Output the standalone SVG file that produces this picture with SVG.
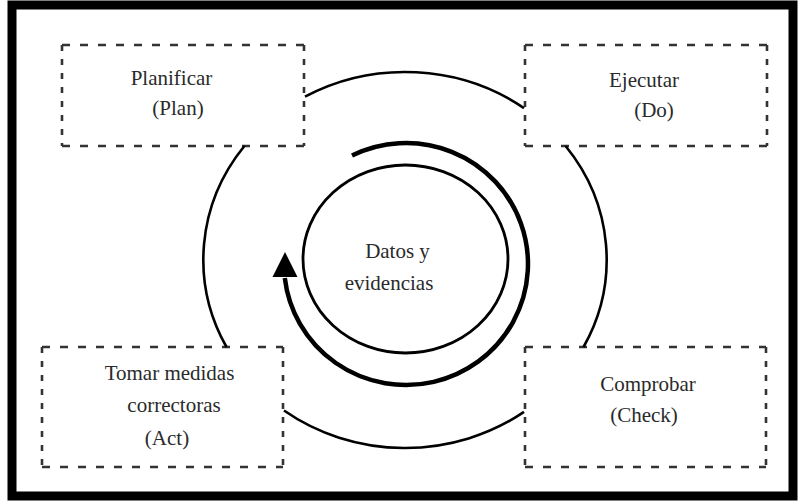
<svg xmlns="http://www.w3.org/2000/svg" width="801" height="501" viewBox="0 0 801 501">
<style>
.h{stroke:#333;stroke-width:2.6;stroke-dasharray:8 10;fill:none}
.v{stroke:#333;stroke-width:2.6;stroke-dasharray:6 8;fill:none}
.t{font-family:"Liberation Serif","Times New Roman",serif;font-size:21px;fill:#2a2a2a;text-anchor:middle}
.arc{fill:none;stroke:#000;stroke-width:2.6}
</style>
<rect x="0" y="0" width="801" height="501" fill="#fff"/>
<rect x="12" y="5" width="781" height="491" fill="none" stroke="#000" stroke-width="9"/>
<g id="plan">
<line class="h" x1="62" y1="45" x2="304" y2="45"/>
<line class="h" x1="62" y1="146" x2="304" y2="146"/>
<line class="v" x1="62" y1="45" x2="62" y2="146"/>
<line class="v" x1="304" y1="45" x2="304" y2="146"/>
<text class="t" x="171.5" y="85">Planificar</text>
<text class="t" x="178" y="115">(Plan)</text>
</g>
<g id="do">
<line class="h" x1="525" y1="45" x2="767" y2="45"/>
<line class="h" x1="525" y1="146" x2="767" y2="146"/>
<line class="v" x1="525" y1="45" x2="525" y2="146"/>
<line class="v" x1="767" y1="45" x2="767" y2="146"/>
<text class="t" x="644" y="87">Ejecutar</text>
<text class="t" x="654" y="117">(Do)</text>
</g>
<g id="act">
<line class="h" x1="42" y1="347" x2="283" y2="347"/>
<line class="h" x1="42" y1="467" x2="283" y2="467"/>
<line class="v" x1="42" y1="347" x2="42" y2="467"/>
<line class="v" x1="283" y1="347" x2="283" y2="467"/>
<text class="t" x="169.5" y="380">Tomar medidas</text>
<text class="t" x="174" y="412">correctoras</text>
<text class="t" x="167" y="445">(Act)</text>
</g>
<g id="check">
<line class="h" x1="525" y1="347" x2="766" y2="347"/>
<line class="h" x1="525" y1="467" x2="766" y2="467"/>
<line class="v" x1="525" y1="347" x2="525" y2="467"/>
<line class="v" x1="766" y1="347" x2="766" y2="467"/>
<text class="t" x="648" y="391">Comprobar</text>
<text class="t" x="644" y="422">(Check)</text>
</g>
<g id="center">
<ellipse cx="405.5" cy="259" rx="102.5" ry="94" fill="none" stroke="#000" stroke-width="2.8"/>
<text class="t" x="397.5" y="258">Datos y</text>
<text class="t" x="389" y="290">evidencias</text>
</g>
<g id="connectors">
<path class="arc" d="M305,96.7 A202,188 0 0 1 524,108.1"/>
<path class="arc" d="M565.6,146 A202,188 0 0 1 583.5,347"/>
<path class="arc" d="M524,411.9 A202,188 0 0 1 284,410.5"/>
<path class="arc" d="M226.5,347 A202,188 0 0 1 244.4,146"/>
<path d="M352,155.5 A122,121 0 1 1 284.8,278" fill="none" stroke="#000" stroke-width="4.5"/>
<polygon points="285,252 272.5,277 297.5,277" fill="#000"/>
</g>
</svg>
